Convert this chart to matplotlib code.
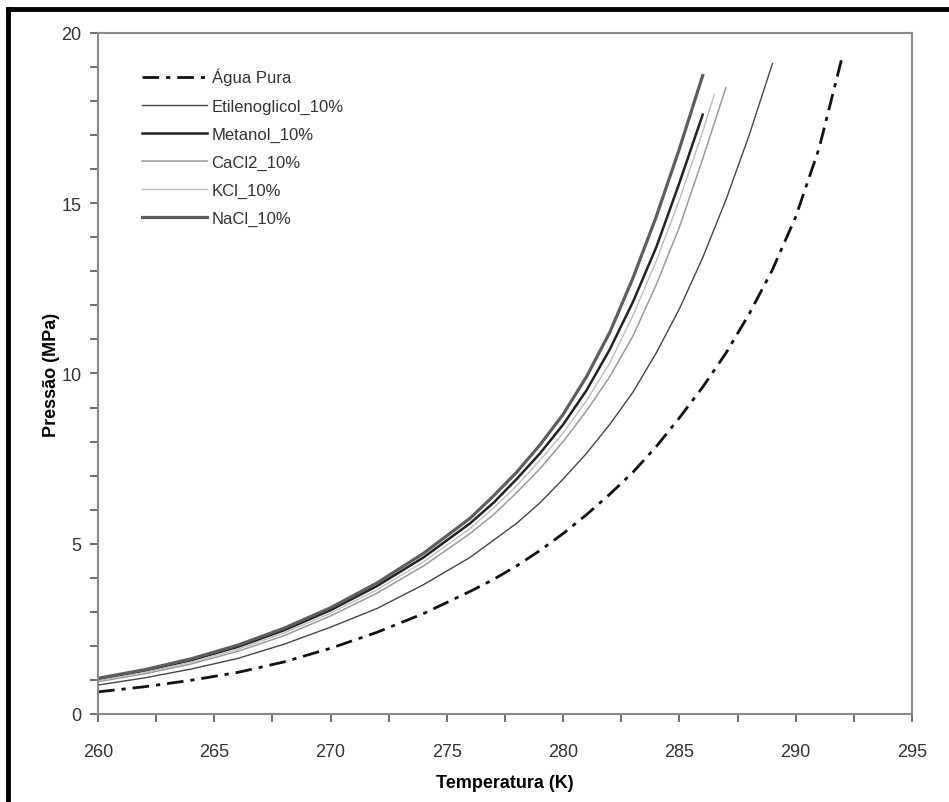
import matplotlib
matplotlib.use("Agg")
import matplotlib.pyplot as plt
from matplotlib.lines import Line2D
from matplotlib.ticker import MultipleLocator

plt.rcParams['font.family'] = ['Liberation Sans', 'DejaVu Sans']

# curvas de equilibrio de hidrato (T em K, P em MPa)
t_agua = [260, 262, 264, 266, 268, 270, 272, 274, 276, 277, 278, 279, 280, 281, 282,
          283, 284, 285, 286, 287, 288, 289, 290, 291, 292]
p_agua = [0.65, 0.80, 0.99, 1.22, 1.53, 1.93, 2.40, 2.95, 3.60, 3.95, 4.35, 4.80, 5.30, 5.85, 6.45,
          7.10, 7.85, 8.70, 9.60, 10.6, 11.75, 13.05, 14.6, 16.6, 19.3]

t_etil = [260, 262, 264, 266, 268, 270, 272, 274, 276, 277, 278, 279, 280, 281, 282,
          283, 284, 285, 286, 287, 288, 289]
p_etil = [0.85, 1.06, 1.32, 1.63, 2.05, 2.55, 3.10, 3.80, 4.60, 5.10, 5.60, 6.20, 6.90, 7.65, 8.50,
          9.45, 10.6, 11.9, 13.4, 15.1, 17.0, 19.1]

t_met = [260, 262, 264, 266, 268, 270, 272, 274, 276, 277, 278, 279, 280, 281, 282,
         283, 284, 285, 286]
p_met = [1.02, 1.27, 1.58, 1.97, 2.46, 3.05, 3.76, 4.60, 5.60, 6.20, 6.90, 7.65, 8.50, 9.50, 10.7,
         12.1, 13.7, 15.6, 17.6]

t_cacl2 = [260, 262, 264, 266, 268, 270, 272, 274, 276, 277, 278, 279, 280, 281, 282,
           283, 284, 285, 286, 287]
p_cacl2 = [0.95, 1.18, 1.47, 1.84, 2.30, 2.88, 3.55, 4.35, 5.30, 5.85, 6.50, 7.20, 8.00, 8.90, 9.90,
           11.1, 12.6, 14.3, 16.3, 18.4]

t_kcl = [260, 262, 264, 266, 268, 270, 272, 274, 276, 277, 278, 279, 280, 281, 282,
         283, 284, 285, 286, 286.5]
p_kcl = [0.98, 1.22, 1.52, 1.90, 2.38, 2.96, 3.65, 4.47, 5.45, 6.05, 6.70, 7.45, 8.25, 9.20, 10.3,
         11.7, 13.3, 15.1, 17.1, 18.2]

t_nacl = [260, 262, 264, 266, 268, 270, 272, 274, 276, 277, 278, 279, 280, 281, 282,
          283, 284, 285, 286]
p_nacl = [1.05, 1.30, 1.62, 2.02, 2.52, 3.12, 3.85, 4.72, 5.75, 6.40, 7.10, 7.90, 8.80, 9.90, 11.2,
          12.8, 14.6, 16.6, 18.75]

fig = plt.figure(figsize=(9.49, 8.03), dpi=100)
ax = fig.add_axes([0.1033, 0.1096, 0.8577, 0.8481])

ax.plot(t_agua, p_agua, color='#111111', lw=2.0, ls=(0, (6, 2.5, 1.5, 2.5)), label='Água Pura')
ax.plot(t_etil, p_etil, color='#444444', lw=1.0, label='Etilenoglicol_10%')
ax.plot(t_met, p_met, color='#222222', lw=1.8, label='Metanol_10%')
ax.plot(t_cacl2, p_cacl2, color='#9a9a9a', lw=1.1, label='CaCl2_10%')
ax.plot(t_kcl, p_kcl, color='#bdbdbd', lw=1.0, label='KCl_10%')
ax.plot(t_nacl, p_nacl, color='#5e5e5e', lw=2.3, label='NaCl_10%')

ax.set_xlim(260, 295)
ax.set_ylim(0, 20)
ax.xaxis.set_major_locator(MultipleLocator(5))
ax.xaxis.set_minor_locator(MultipleLocator(2.5))
ax.yaxis.set_major_locator(MultipleLocator(5))
ax.yaxis.set_minor_locator(MultipleLocator(1))

for s in ax.spines.values():
    s.set_color('#8a8a8a')
    s.set_linewidth(1.5)
ax.tick_params(which='both', direction='out', color='#555555', width=1.2, length=6)
ax.tick_params(which='major', labelsize=13, labelcolor='#333333')
ax.tick_params(axis='x', which='major', pad=15)
ax.tick_params(axis='y', which='major', pad=6)

ax.set_xlabel('Temperatura (K)', fontsize=13, fontweight='bold', labelpad=10)
ax.set_ylabel('Pressão (MPa)', fontsize=13, fontweight='bold', labelpad=1)

leg = ax.legend(loc='upper left', bbox_to_anchor=(0.035, 0.9706), frameon=False,
                fontsize=12, handlelength=3.9, handletextpad=0.3, labelspacing=0.78)
for t in leg.get_texts():
    t.set_color('#333333')

# moldura preta da figura (cortada a direita e embaixo)
fig.add_artist(Line2D([0.0085, 0.0085], [0.0, 0.987], color='black', lw=3.5))
fig.add_artist(Line2D([0.0085, 1.0], [0.987, 0.987], color='black', lw=3.5))

fig.savefig('out.png', dpi=100)
